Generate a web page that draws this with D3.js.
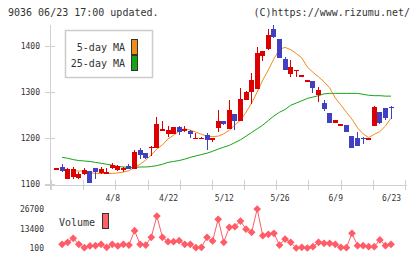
<!DOCTYPE html>
<html>
<head>
<meta charset="utf-8">
<script src="https://cdn.jsdelivr.net/npm/d3@7"></script>
<style>
body { margin: 0; background: #fff; }
svg { display: block; font-family: 'DejaVu Sans Mono', monospace; }
</style>
</head>
<body>
<svg id="chart" width="420" height="259"></svg>
<script>
// trading days, 2020-03-25 .. 2020-06-23
const dates = ["3/25","3/26","3/27","3/30","3/31","4/1","4/2","4/3","4/6","4/7",
    "4/8","4/9","4/10","4/13","4/14","4/15","4/16","4/17","4/20","4/21",
    "4/22","4/23","4/24","4/27","4/28","4/30","5/1","5/7","5/8","5/11",
    "5/12","5/13","5/14","5/15","5/18","5/19","5/20","5/21","5/22","5/25",
    "5/26","5/27","5/28","5/29","6/1","6/2","6/3","6/4","6/5","6/8",
    "6/9","6/10","6/11","6/12","6/15","6/16","6/17","6/18","6/19","6/22","6/23"];
const labelDates = ["4/8","4/22","5/12","5/26","6/9","6/23"];

const opens = [1134,1136,1111,1116,1114,1122,1128,1134,1125,1124,
    1134,1130,1131,1139,1133,1174,1167,1178,1179,1217,
    1209,1209,1225,1215,1215,1199,1198,1206,1196,1222,
    1237,1220,1252,1238,1283,1301,1307,1379,1393,1436,
    1415,1371,1340,1346,1333,1324,1324,1293,1277,1254,
    1233,1228,1228,1204,1199,1201,1197,1227,1256,1265,1268];
const highs = [1135,1143,1134,1138,1127,1135,1129,1135,1136,1134,
    1145,1142,1137,1144,1173,1178,1168,1183,1246,1236,
    1226,1225,1226,1226,1217,1210,1203,1210,1201,1261,
    1238,1283,1253,1308,1302,1341,1398,1390,1438,1446,
    1416,1377,1370,1348,1337,1326,1324,1311,1283,1254,
    1239,1230,1228,1204,1214,1203,1199,1270,1256,1265,1269];
const lows = [1133,1126,1110,1110,1110,1120,1102,1110,1122,1124,
    1132,1128,1126,1132,1133,1154,1155,1160,1178,1217,
    1202,1208,1207,1212,1199,1199,1197,1174,1192,1214,
    1228,1219,1217,1237,1282,1275,1306,1368,1392,1417,
    1374,1347,1333,1333,1333,1324,1298,1279,1259,1233,
    1233,1228,1214,1179,1183,1186,1197,1226,1230,1239,1241];
const closes = [1134,1128,1133,1133,1122,1130,1103,1126,1133,1126,
    1141,1139,1135,1133,1170,1163,1156,1181,1230,1219,
    1217,1223,1214,1219,1209,1201,1201,1196,1201,1238,
    1230,1261,1238,1285,1301,1326,1385,1389,1424,1420,
    1375,1348,1355,1348,1337,1326,1309,1304,1263,1233,
    1239,1230,1214,1179,1183,1197,1199,1268,1233,1243,1267];

const ma5 = [null,null,null,1129,1128,1128,1125,1123,1123,1123,
    1123,1124,1126,1129,1136,1143,1152,1163,1176,1185,
    1198,1206,1215,1220,1217,1213,1208,1204,1203,1204,
    1209,1217,1228,1239,1256,1276,1300,1326,1348,1372,
    1393,1397,1392,1384,1374,1354,1343,1333,1322,1309,
    1287,1272,1256,1241,1222,1209,1201,1208,1214,1226,1243];
const ma25 = [null,1158,1156,1153,1151,1150,1149,1147,1145,1143,
    1141,1138,1137,1136,1136,1137,1137,1138,1140,1143,
    1147,1149,1151,1154,1158,1161,1164,1167,1171,1176,
    1180,1184,1190,1196,1204,1212,1220,1228,1238,1248,
    1256,1262,1271,1276,1281,1286,1289,1292,1296,1297,
    1297,1297,1297,1297,1297,1295,1293,1292,1292,1291,1291];

const volumes = [null,2600,4000,6700,2600,300,1500,1700,2600,600,
    2600,1500,2600,2100,11900,2600,2100,7400,21900,7400,
    4400,4400,5100,2600,2600,300,600,7400,4900,19700,
    4000,14200,14600,18500,12900,10800,26700,8500,9400,10100,
    2100,6200,4000,100,600,100,1000,4000,3300,3300,
    2600,600,300,10100,1700,1700,1000,1000,5600,1700,2600];

const priceTicks = [1100, 1200, 1300, 1400];
const volumeTicks = [100, 13400, 26700];

const RED = '#dd0000', BLUE = '#4040c0', ORANGE = '#f08c1a', GREEN = '#14a514', VOL = '#ff5c68';
const AXIS = '#d0d0d0', TEXT = '#333';

const svg = d3.select('#chart');

const x = d3.scalePoint().domain(dates).range([56.5, 391]);
const y = d3.scaleLinear().domain([1100, 1400]).range([184, 46]);
const yv = d3.scaleLinear().domain([100, 26700]).range([248, 209]);

// header
svg.append('text').attr('x', 8).attr('y', 16).attr('font-size', 10).attr('fill', TEXT)
    .text('9036 06/23 17:00 updated.');
svg.append('text').attr('x', 410).attr('y', 16).attr('font-size', 10).attr('fill', TEXT)
    .attr('text-anchor', 'end').text('(C)https://www.rizumu.net/');

// frame lines
svg.append('line').attr('x1', 50.5).attr('x2', 50.5).attr('y1', 25).attr('y2', 190)
    .attr('stroke', AXIS);
svg.append('line').attr('x1', 45).attr('x2', 407).attr('y1', 185.5).attr('y2', 185.5)
    .attr('stroke', AXIS);

// evenly spaced grid marks along the bottom line
const gridX = d3.scaleLinear().domain([0, 11]).range([51, 405]);
svg.append('g')
    .selectAll('line')
    .data(d3.range(12))
    .join('line')
    .attr('x1', (d) => Math.round(gridX(d)) + 0.5)
    .attr('x2', (d) => Math.round(gridX(d)) + 0.5)
    .attr('y1', 180)
    .attr('y2', 190)
    .attr('stroke', AXIS);

const styleText = (g) => g.selectAll('.tick text')
    .attr('font-family', 'DejaVu Sans Mono').attr('font-size', 8).attr('fill', TEXT);

// price axis
svg.append('g')
    .attr('transform', 'translate(50,0)')
    .call(d3.axisLeft(y).tickValues(priceTicks).tickFormat(d3.format('d')).tickSize(5).tickPadding(5))
    .call((g) => g.select('.domain').remove())
    .call((g) => g.selectAll('.tick line').attr('x1', -5).attr('x2', 5).attr('stroke', AXIS))
    .call(styleText);

// date labels
svg.append('g')
    .attr('transform', 'translate(0,185)')
    .call(d3.axisBottom(x).tickValues(labelDates).tickSize(0).tickPadding(10))
    .call((g) => g.select('.domain').remove())
    .call(styleText);

// volume axis labels
svg.append('g')
    .attr('transform', 'translate(44,0)')
    .call(d3.axisLeft(yv).tickValues(volumeTicks).tickFormat(d3.format('d')).tickSize(0).tickPadding(0))
    .call((g) => g.select('.domain').remove())
    .call(styleText);

// moving averages
const maLine = d3.line()
    .defined((d) => d != null)
    .x((d, i) => x(dates[i]))
    .y((d) => y(d));

svg.append('path').datum(ma25)
    .attr('fill', 'none').attr('stroke', GREEN).attr('stroke-width', 1)
    .attr('d', maLine);
svg.append('path').datum(ma5)
    .attr('fill', 'none').attr('stroke', ORANGE).attr('stroke-width', 1)
    .attr('d', maLine);

// candles
const candles = dates.map((d, i) => ({
    date: d, open: opens[i], high: highs[i], low: lows[i], close: closes[i]
}));
const colorOf = (d) => (d.close >= d.open ? RED : BLUE);

const cg = svg.append('g').attr('shape-rendering', 'crispEdges');
cg.selectAll('line')
    .data(candles)
    .join('line')
    .attr('x1', (d) => Math.floor(x(d.date)) + 0.5)
    .attr('x2', (d) => Math.floor(x(d.date)) + 0.5)
    .attr('y1', (d) => y(d.high))
    .attr('y2', (d) => y(d.low))
    .attr('stroke', colorOf);
cg.selectAll('rect')
    .data(candles)
    .join('rect')
    .attr('x', (d) => Math.floor(x(d.date)) - 2)
    .attr('y', (d) => y(Math.max(d.open, d.close)))
    .attr('width', 5)
    .attr('height', (d) => Math.max(1.5, Math.abs(y(d.open) - y(d.close))))
    .attr('fill', colorOf);

// legend
svg.append('rect').attr('x', 65.5).attr('y', 30.5).attr('width', 87).attr('height', 47)
    .attr('fill', '#fff').attr('stroke', '#ccc').attr('stroke-width', 1.5);
const legend = [
    { label: '5-day MA', color: ORANGE, y: 47 },
    { label: '25-day MA', color: GREEN, y: 63 }
];
svg.append('g')
    .selectAll('text')
    .data(legend)
    .join('text')
    .attr('x', 125)
    .attr('y', (d) => d.y + 3.5)
    .attr('text-anchor', 'end')
    .attr('font-size', 10)
    .attr('fill', TEXT)
    .text((d) => d.label);
svg.append('g')
    .selectAll('rect')
    .data(legend)
    .join('rect')
    .attr('x', 131.5)
    .attr('y', (d) => d.y - 7.5)
    .attr('width', 6)
    .attr('height', 15)
    .attr('fill', (d) => d.color)
    .attr('stroke', '#333');

// volume
const volLine = d3.line()
    .defined((d) => d != null)
    .x((d, i) => x(dates[i]))
    .y((d) => yv(d));
svg.append('path').datum(volumes)
    .attr('fill', 'none').attr('stroke', VOL).attr('stroke-width', 1)
    .attr('d', volLine);
const vols = volumes.map((v, i) => ({ date: dates[i], value: v })).filter((d) => d.value != null);
svg.append('g')
    .attr('fill', VOL)
    .selectAll('path')
    .data(vols)
    .join('path')
    .attr('d', d3.symbol(d3.symbolSquare, 30))
    .attr('transform', (d) => `translate(${x(d.date)},${yv(d.value)}) rotate(45)`);

svg.append('text').attr('x', 59).attr('y', 225.5).attr('font-size', 10).attr('fill', TEXT)
    .text('Volume');
svg.append('rect').attr('x', 102.5).attr('y', 213.5).attr('width', 6).attr('height', 15)
    .attr('fill', '#ff6066').attr('stroke', '#333');
</script>
</body>
</html>
